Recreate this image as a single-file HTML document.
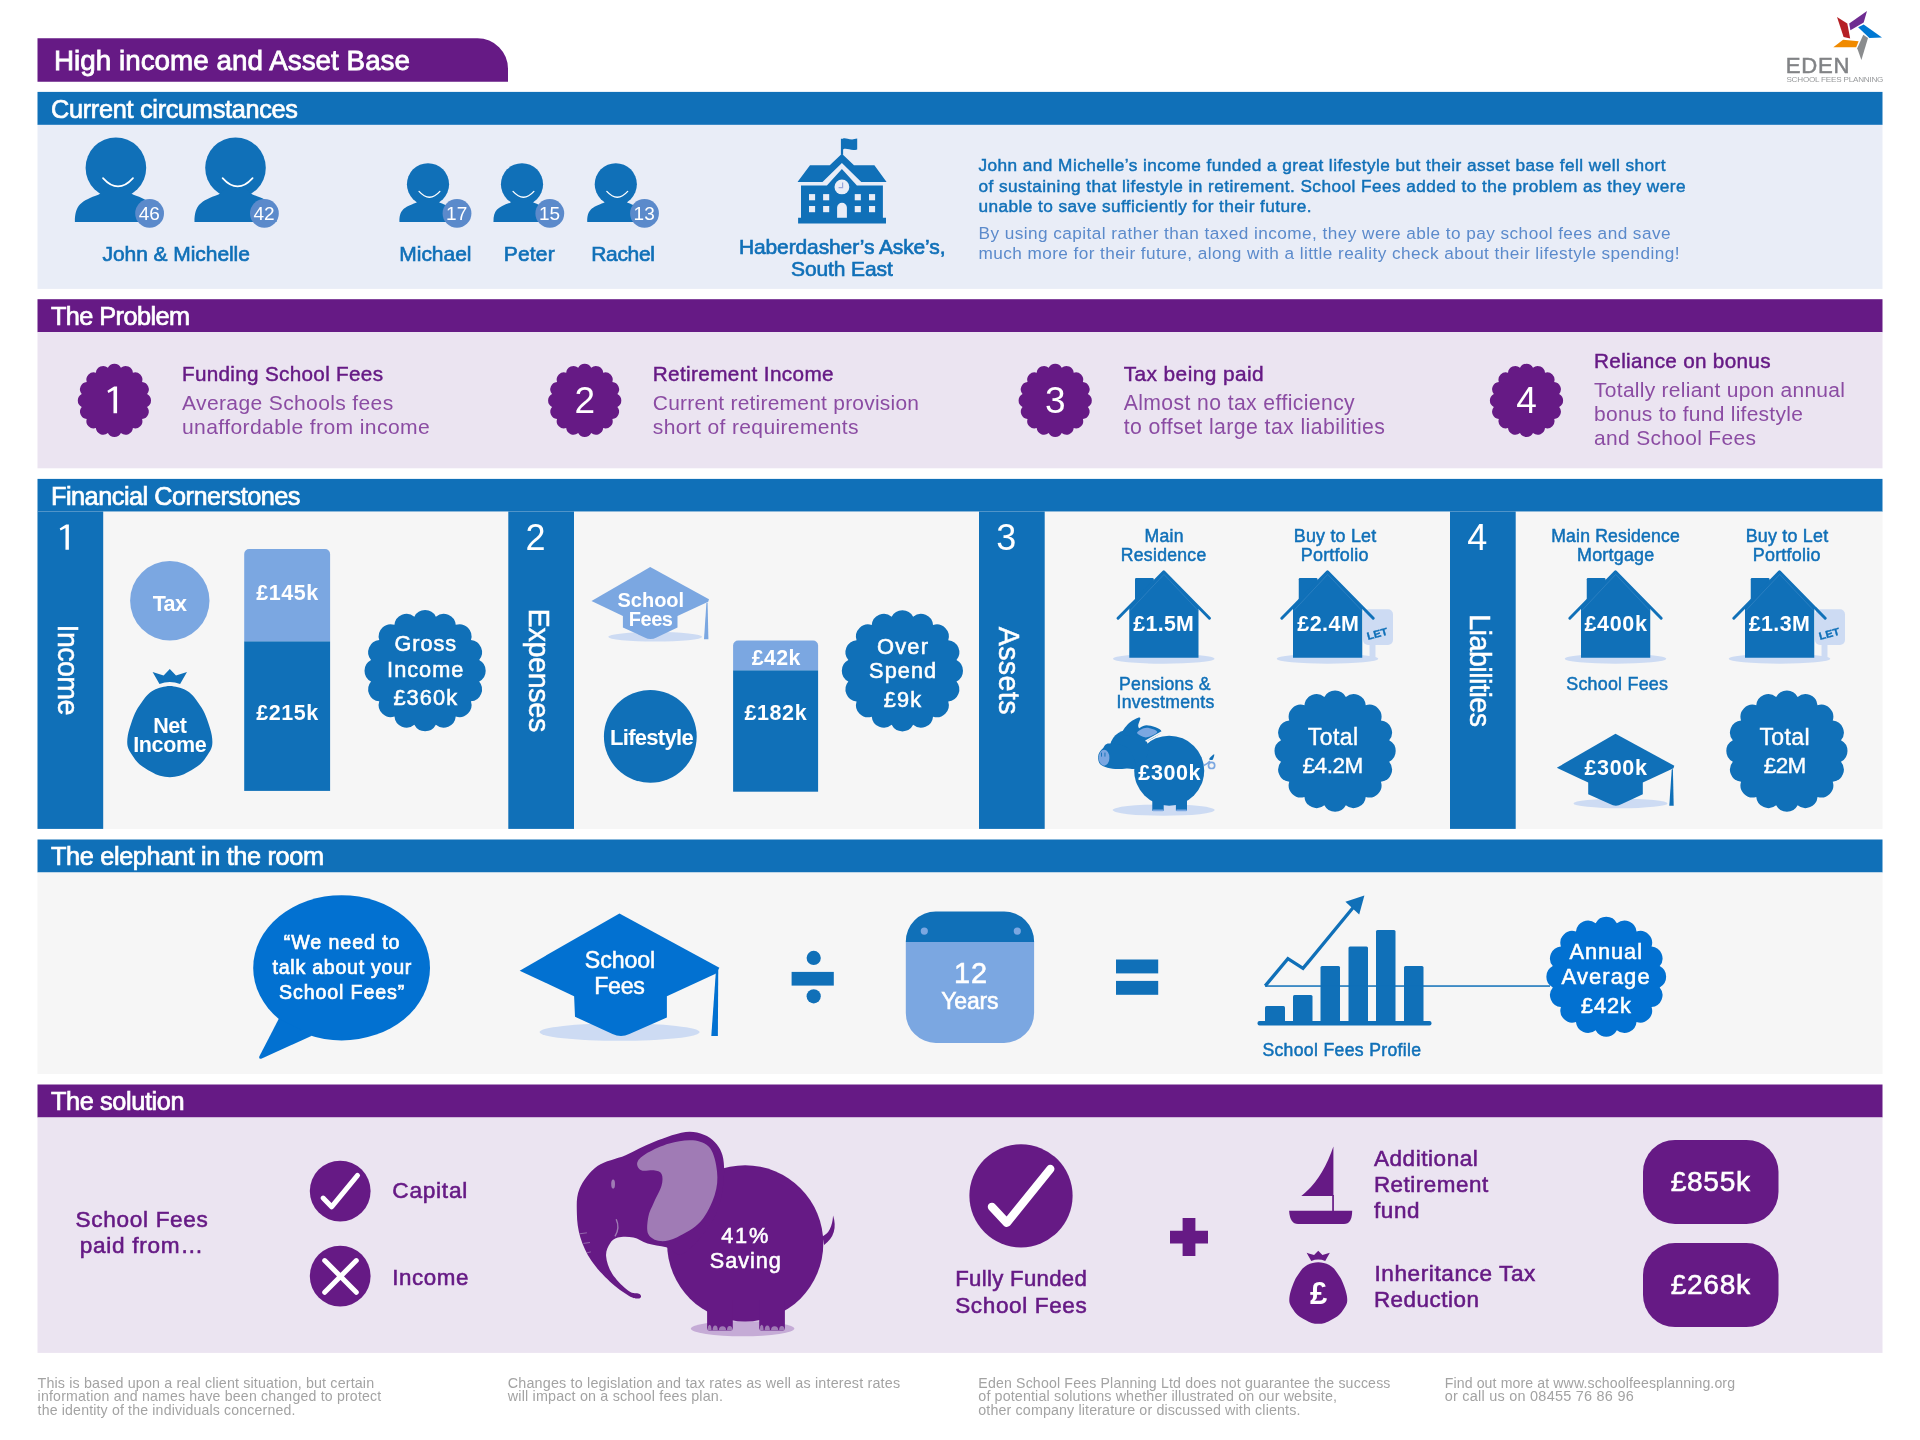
<!DOCTYPE html><html><head><meta charset="utf-8"><title>High income and Asset Base</title><style>html,body{margin:0;padding:0;background:#fff}svg{display:block;will-change:transform}text{font-family:"Liberation Sans",sans-serif;white-space:pre}</style></head><body><svg width="1920" height="1440" viewBox="0 0 1920 1440"><path d="M37.5 38.2H477.5A30.5 30.5 0 0 1 508 68.7V81.7H37.5Z" fill="#661A85"/>
<text x="54.0" y="69.9" font-size="27.8" fill="#fff" textLength="356.0" lengthAdjust="spacing" stroke="#fff" stroke-width="0.8">High income and Asset Base</text>
<rect x="37.50" y="91.90" width="1845.00" height="33.00" fill="#1070B8"/>
<text x="51.0" y="117.5" font-size="25.3" fill="#fff" textLength="247.0" lengthAdjust="spacing" stroke="#fff" stroke-width="0.7">Current circumstances</text>
<rect x="37.50" y="124.90" width="1845.00" height="164.00" fill="#E9EDF7"/>
<rect x="37.50" y="299.20" width="1845.00" height="33.00" fill="#661A85"/>
<text x="51.0" y="324.8" font-size="25.3" fill="#fff" textLength="139.0" lengthAdjust="spacing" stroke="#fff" stroke-width="0.7">The Problem</text>
<rect x="37.50" y="332.00" width="1845.00" height="136.30" fill="#EBE4F1"/>
<rect x="37.50" y="478.90" width="1845.00" height="33.00" fill="#1070B8"/>
<text x="51.0" y="504.5" font-size="25.3" fill="#fff" textLength="249.5" lengthAdjust="spacing" stroke="#fff" stroke-width="0.7">Financial Cornerstones</text>
<rect x="37.50" y="511.50" width="1845.00" height="317.40" fill="#F6F6F6"/>
<rect x="37.50" y="839.50" width="1845.00" height="33.00" fill="#1070B8"/>
<text x="51.0" y="865.1" font-size="25.3" fill="#fff" textLength="273.0" lengthAdjust="spacing" stroke="#fff" stroke-width="0.7">The elephant in the room</text>
<rect x="37.50" y="872.50" width="1845.00" height="201.50" fill="#F6F6F6"/>
<rect x="37.50" y="1084.50" width="1845.00" height="33.00" fill="#661A85"/>
<text x="51.0" y="1110.1" font-size="25.3" fill="#fff" textLength="133.5" lengthAdjust="spacing" stroke="#fff" stroke-width="0.7">The solution</text>
<rect x="37.50" y="1117.50" width="1845.00" height="235.40" fill="#EBE4F1"/>
<polygon points="1849.20,23.40 1867.00,11.00 1863.70,22.50 1850.40,30.20" fill="#6F2C91"/>
<polygon points="1837.00,16.90 1847.30,23.40 1850.20,38.40 1843.60,37.00" fill="#B52025"/>
<polygon points="1858.10,27.20 1863.70,24.60 1882.00,37.50 1869.40,38.00" fill="#0078D2"/>
<polygon points="1863.30,34.70 1868.00,38.00 1861.40,60.00 1857.20,48.30" fill="#8A8C8E"/>
<polygon points="1833.30,47.30 1843.10,39.80 1858.60,41.20 1856.20,47.30" fill="#F08A00"/>
<text x="1785.8" y="72.7" font-size="22.14" fill="#818386" textLength="63.8" lengthAdjust="spacing" stroke="#818386" stroke-width="0.5">EDEN</text>
<text x="1786.4" y="81.6" font-size="8.1" fill="#97999b" textLength="97.0" lengthAdjust="spacing">SCHOOL FEES PLANNING</text>
<circle cx="115.90" cy="167.80" r="30.30" fill="#1070B8"/>
<path d="M74.90 221.9C74.90 204.90 80.90 200.90 98.90 194.40L105.90 188.40H125.90L132.90 194.40C150.90 200.90 156.90 204.90 156.90 221.9Z" fill="#1070B8"/>
<path d="M103.00 178.10Q118.00 194.80 133.00 178.10" fill="none" stroke="#fff" stroke-width="1.7" stroke-linecap="round"/>
<circle cx="149.60" cy="213.40" r="14.40" fill="#5B8ACB"/>
<text x="149.3" y="220.2" font-size="19" fill="#fff" text-anchor="middle" textLength="21.2" lengthAdjust="spacing">46</text>
<circle cx="235.50" cy="167.80" r="30.30" fill="#1070B8"/>
<path d="M194.50 221.9C194.50 204.90 200.50 200.90 218.50 194.40L225.50 188.40H245.50L252.50 194.40C270.50 200.90 276.50 204.90 276.50 221.9Z" fill="#1070B8"/>
<path d="M222.60 178.10Q237.60 194.80 252.60 178.10" fill="none" stroke="#fff" stroke-width="1.7" stroke-linecap="round"/>
<circle cx="264.40" cy="213.40" r="14.40" fill="#5B8ACB"/>
<text x="264.1" y="220.2" font-size="19" fill="#fff" text-anchor="middle" textLength="21.2" lengthAdjust="spacing">42</text>
<circle cx="428.00" cy="184.25" r="21.09" fill="#1070B8"/>
<path d="M399.46 221.9C399.46 210.07 403.64 207.28 416.17 202.76L421.04 198.58H434.96L439.83 202.76C452.36 207.28 456.54 210.07 456.54 221.9Z" fill="#1070B8"/>
<path d="M419.02 191.42Q429.46 203.04 439.90 191.42" fill="none" stroke="#fff" stroke-width="1.3" stroke-linecap="round"/>
<circle cx="457.00" cy="213.40" r="14.40" fill="#5B8ACB"/>
<text x="456.7" y="220.2" font-size="19" fill="#fff" text-anchor="middle" textLength="21.2" lengthAdjust="spacing">17</text>
<circle cx="522.00" cy="184.25" r="21.09" fill="#1070B8"/>
<path d="M493.46 221.9C493.46 210.07 497.64 207.28 510.17 202.76L515.04 198.58H528.96L533.83 202.76C546.36 207.28 550.54 210.07 550.54 221.9Z" fill="#1070B8"/>
<path d="M513.02 191.42Q523.46 203.04 533.90 191.42" fill="none" stroke="#fff" stroke-width="1.3" stroke-linecap="round"/>
<circle cx="549.80" cy="213.40" r="14.40" fill="#5B8ACB"/>
<text x="549.5" y="220.2" font-size="19" fill="#fff" text-anchor="middle" textLength="21.2" lengthAdjust="spacing">15</text>
<circle cx="615.80" cy="184.25" r="21.09" fill="#1070B8"/>
<path d="M587.26 221.9C587.26 210.07 591.44 207.28 603.97 202.76L608.84 198.58H622.76L627.63 202.76C640.16 207.28 644.34 210.07 644.34 221.9Z" fill="#1070B8"/>
<path d="M606.82 191.42Q617.26 203.04 627.70 191.42" fill="none" stroke="#fff" stroke-width="1.3" stroke-linecap="round"/>
<circle cx="644.50" cy="213.40" r="14.40" fill="#5B8ACB"/>
<text x="644.2" y="220.2" font-size="19" fill="#fff" text-anchor="middle" textLength="21.2" lengthAdjust="spacing">13</text>
<text x="102.5" y="260.6" font-size="21" fill="#1070B8" textLength="147.4" lengthAdjust="spacing" stroke="#1070B8" stroke-width="0.65">John &amp; Michelle</text>
<text x="399.3" y="260.6" font-size="21" fill="#1070B8" textLength="72.2" lengthAdjust="spacing" stroke="#1070B8" stroke-width="0.65">Michael</text>
<text x="503.7" y="260.6" font-size="21" fill="#1070B8" textLength="51.0" lengthAdjust="spacing" stroke="#1070B8" stroke-width="0.65">Peter</text>
<text x="591.2" y="260.6" font-size="21" fill="#1070B8" textLength="63.8" lengthAdjust="spacing" stroke="#1070B8" stroke-width="0.65">Rachel</text>
<polygon points="797.50,181.90 810.00,165.25 829.75,165.25 841.90,153.75 854.00,165.25 874.40,165.25 886.60,181.90 861.25,181.90 841.90,163.10 822.50,181.90" fill="#1070B8"/>
<polygon points="801.00,185.60 826.90,185.60 841.90,169.00 856.90,185.60 882.90,185.60 882.90,218.00 801.00,218.00" fill="#1070B8"/>
<rect x="798.10" y="217.75" width="87.90" height="5.75" fill="#1070B8"/>
<rect x="840.90" y="138.75" width="2.20" height="16.00" fill="#1070B8"/>
<path d="M843 138.6C846 137 849 141 857.2 138.6V149.4C851 151.5 847 147.5 843 149.4Z" fill="#1070B8"/>
<circle cx="841.90" cy="186.90" r="7.40" fill="#E9EDF7"/>
<path d="M842.6 182.4V187.6H838.6" fill="none" stroke="#9AA8DC" stroke-width="1.2"/>
<rect x="809.00" y="194.10" width="6.10" height="6.20" fill="#E9EDF7"/>
<rect x="809.00" y="206.00" width="6.10" height="6.20" fill="#E9EDF7"/>
<rect x="823.10" y="194.10" width="6.10" height="6.20" fill="#E9EDF7"/>
<rect x="823.10" y="206.00" width="6.10" height="6.20" fill="#E9EDF7"/>
<rect x="854.75" y="194.10" width="6.10" height="6.20" fill="#E9EDF7"/>
<rect x="854.75" y="206.00" width="6.10" height="6.20" fill="#E9EDF7"/>
<rect x="869.00" y="194.10" width="6.10" height="6.20" fill="#E9EDF7"/>
<rect x="869.00" y="206.00" width="6.10" height="6.20" fill="#E9EDF7"/>
<path d="M837.1 217.75V207.6A4.9 4.9 0 0 1 846.9 207.6V217.75Z" fill="#E9EDF7"/>
<text x="738.9" y="254.4" font-size="21" fill="#1070B8" textLength="206.6" lengthAdjust="spacing" stroke="#1070B8" stroke-width="0.65">Haberdasher’s Aske’s,</text>
<text x="791.0" y="276.2" font-size="21" fill="#1070B8" textLength="101.8" lengthAdjust="spacing" stroke="#1070B8" stroke-width="0.65">South East</text>
<text x="978.5" y="170.9" font-size="17.24" fill="#1070B8" textLength="687.0" lengthAdjust="spacing" stroke="#1070B8" stroke-width="0.45">John and Michelle’s income funded a great lifestyle but their asset base fell well short</text>
<text x="978.5" y="191.9" font-size="17.23" fill="#1070B8" textLength="707.0" lengthAdjust="spacing" stroke="#1070B8" stroke-width="0.45">of sustaining that lifestyle in retirement. School Fees added to the problem as they were</text>
<text x="978.5" y="212.0" font-size="17.25" fill="#1070B8" textLength="333.0" lengthAdjust="spacing" stroke="#1070B8" stroke-width="0.45">unable to save sufficiently for their future.</text>
<text x="978.5" y="238.9" font-size="17.21" fill="#5B8ACB" textLength="692.0" lengthAdjust="spacing">By using capital rather than taxed income, they were able to pay school fees and save</text>
<text x="978.5" y="259.0" font-size="17.22" fill="#5B8ACB" textLength="701.0" lengthAdjust="spacing">much more for their future, along with a little reality check about their lifestyle spending!</text>
<path d="M107.90 367.74A7.32 7.32 0 0 1 120.90 367.74A7.32 7.32 0 0 1 132.90 372.72A7.32 7.32 0 0 1 142.08 381.90A7.32 7.32 0 0 1 147.06 393.90A7.32 7.32 0 0 1 147.06 406.90A7.32 7.32 0 0 1 142.08 418.90A7.32 7.32 0 0 1 132.90 428.08A7.32 7.32 0 0 1 120.90 433.06A7.32 7.32 0 0 1 107.90 433.06A7.32 7.32 0 0 1 95.90 428.08A7.32 7.32 0 0 1 86.72 418.90A7.32 7.32 0 0 1 81.74 406.90A7.32 7.32 0 0 1 81.74 393.90A7.32 7.32 0 0 1 86.72 381.90A7.32 7.32 0 0 1 95.90 372.72A7.32 7.32 0 0 1 107.90 367.74Z" fill="#661A85"/>
<polygon points="117.08,386.55 117.08,413.15 113.48,413.15 113.48,390.25 108.38,393.00 107.38,390.85 114.13,386.55" fill="#fff"/>
<text x="182.0" y="381.0" font-size="20.68" fill="#661A85" textLength="201.0" lengthAdjust="spacing" stroke="#661A85" stroke-width="0.45">Funding School Fees</text>
<text x="182.0" y="410.0" font-size="21.05" fill="#8B4CA3" textLength="211.2" lengthAdjust="spacing">Average Schools fees</text>
<text x="182.0" y="434.1" font-size="21.1" fill="#8B4CA3" textLength="247.7" lengthAdjust="spacing">unaffordable from income</text>
<path d="M578.20 367.74A7.32 7.32 0 0 1 591.20 367.74A7.32 7.32 0 0 1 603.20 372.72A7.32 7.32 0 0 1 612.38 381.90A7.32 7.32 0 0 1 617.36 393.90A7.32 7.32 0 0 1 617.36 406.90A7.32 7.32 0 0 1 612.38 418.90A7.32 7.32 0 0 1 603.20 428.08A7.32 7.32 0 0 1 591.20 433.06A7.32 7.32 0 0 1 578.20 433.06A7.32 7.32 0 0 1 566.20 428.08A7.32 7.32 0 0 1 557.02 418.90A7.32 7.32 0 0 1 552.04 406.90A7.32 7.32 0 0 1 552.04 393.90A7.32 7.32 0 0 1 557.02 381.90A7.32 7.32 0 0 1 566.20 372.72A7.32 7.32 0 0 1 578.20 367.74Z" fill="#661A85"/>
<text x="584.7" y="413.1" font-size="37" fill="#fff" text-anchor="middle">2</text>
<text x="652.8" y="380.6" font-size="20.73" fill="#661A85" textLength="180.8" lengthAdjust="spacing" stroke="#661A85" stroke-width="0.45">Retirement Income</text>
<text x="652.8" y="409.6" font-size="20.95" fill="#8B4CA3" textLength="266.2" lengthAdjust="spacing">Current retirement provision</text>
<text x="652.8" y="433.7" font-size="21.06" fill="#8B4CA3" textLength="205.8" lengthAdjust="spacing">short of requirements</text>
<path d="M1048.70 367.74A7.32 7.32 0 0 1 1061.70 367.74A7.32 7.32 0 0 1 1073.70 372.72A7.32 7.32 0 0 1 1082.88 381.90A7.32 7.32 0 0 1 1087.86 393.90A7.32 7.32 0 0 1 1087.86 406.90A7.32 7.32 0 0 1 1082.88 418.90A7.32 7.32 0 0 1 1073.70 428.08A7.32 7.32 0 0 1 1061.70 433.06A7.32 7.32 0 0 1 1048.70 433.06A7.32 7.32 0 0 1 1036.70 428.08A7.32 7.32 0 0 1 1027.52 418.90A7.32 7.32 0 0 1 1022.54 406.90A7.32 7.32 0 0 1 1022.54 393.90A7.32 7.32 0 0 1 1027.52 381.90A7.32 7.32 0 0 1 1036.70 372.72A7.32 7.32 0 0 1 1048.70 367.74Z" fill="#661A85"/>
<text x="1055.2" y="413.1" font-size="37" fill="#fff" text-anchor="middle">3</text>
<text x="1123.7" y="380.6" font-size="20.85" fill="#661A85" textLength="139.9" lengthAdjust="spacing" stroke="#661A85" stroke-width="0.45">Tax being paid</text>
<text x="1123.7" y="409.6" font-size="21.16" fill="#8B4CA3" textLength="231.0" lengthAdjust="spacing">Almost no tax efficiency</text>
<text x="1123.7" y="433.7" font-size="21.27" fill="#8B4CA3" textLength="261.2" lengthAdjust="spacing">to offset large tax liabilities</text>
<path d="M1520.00 367.74A7.32 7.32 0 0 1 1533.00 367.74A7.32 7.32 0 0 1 1545.00 372.72A7.32 7.32 0 0 1 1554.18 381.90A7.32 7.32 0 0 1 1559.16 393.90A7.32 7.32 0 0 1 1559.16 406.90A7.32 7.32 0 0 1 1554.18 418.90A7.32 7.32 0 0 1 1545.00 428.08A7.32 7.32 0 0 1 1533.00 433.06A7.32 7.32 0 0 1 1520.00 433.06A7.32 7.32 0 0 1 1508.00 428.08A7.32 7.32 0 0 1 1498.82 418.90A7.32 7.32 0 0 1 1493.84 406.90A7.32 7.32 0 0 1 1493.84 393.90A7.32 7.32 0 0 1 1498.82 381.90A7.32 7.32 0 0 1 1508.00 372.72A7.32 7.32 0 0 1 1520.00 367.74Z" fill="#661A85"/>
<text x="1526.5" y="413.1" font-size="37" fill="#fff" text-anchor="middle">4</text>
<text x="1594.1" y="368.1" font-size="20.69" fill="#661A85" textLength="176.4" lengthAdjust="spacing" stroke="#661A85" stroke-width="0.45">Reliance on bonus</text>
<text x="1594.1" y="397.1" font-size="20.99" fill="#8B4CA3" textLength="250.8" lengthAdjust="spacing">Totally reliant upon annual</text>
<text x="1594.1" y="421.2" font-size="20.98" fill="#8B4CA3" textLength="208.7" lengthAdjust="spacing">bonus to fund lifestyle</text>
<text x="1594.1" y="445.3" font-size="20.98" fill="#8B4CA3" textLength="161.8" lengthAdjust="spacing">and School Fees</text>
<rect x="37.50" y="511.50" width="65.70" height="317.40" fill="#1070B8"/>
<polygon points="68.88,524.50 68.88,549.70 65.47,549.70 65.47,528.01 60.64,530.61 59.69,528.57 66.09,524.50" fill="#fff"/>
<text transform="translate(57.9 624.5) rotate(90)" font-size="28.6" fill="#fff" stroke="#fff" stroke-width="0.5" textLength="91.0" lengthAdjust="spacing">Income</text>
<rect x="508.30" y="511.50" width="65.70" height="317.40" fill="#1070B8"/>
<text x="535.5" y="549.7" font-size="36" fill="#fff" text-anchor="middle">2</text>
<text transform="translate(528.7 608.7) rotate(90)" font-size="28.6" fill="#fff" stroke="#fff" stroke-width="0.5" textLength="123.6" lengthAdjust="spacing">Expenses</text>
<rect x="979.00" y="511.50" width="65.70" height="317.40" fill="#1070B8"/>
<text x="1006.2" y="549.7" font-size="36" fill="#fff" text-anchor="middle">3</text>
<text transform="translate(999.4 626.7) rotate(90)" font-size="28.6" fill="#fff" stroke="#fff" stroke-width="0.5" textLength="87.8" lengthAdjust="spacing">Assets</text>
<rect x="1450.00" y="511.50" width="65.70" height="317.40" fill="#1070B8"/>
<text x="1477.2" y="549.7" font-size="36" fill="#fff" text-anchor="middle">4</text>
<text transform="translate(1470.4 614.2) rotate(90)" font-size="28.6" fill="#fff" stroke="#fff" stroke-width="0.5" textLength="112.8" lengthAdjust="spacing">Liabilities</text>
<circle cx="169.80" cy="600.80" r="39.70" fill="#7BA7E1"/>
<text x="152.7" y="611.0" font-size="21.5" fill="#fff" font-weight="bold" textLength="34.2" lengthAdjust="spacing">Tax</text>
<path d="M169.80 686.00C172.50 686.00 175.20 686.67 177.89 687.37C180.59 688.07 183.65 688.96 185.99 690.20C188.33 691.43 190.18 693.02 191.95 694.76C193.73 696.49 194.76 697.95 196.64 700.59C198.52 703.24 201.32 706.98 203.24 710.62C205.16 714.27 206.72 718.38 208.14 722.48C209.56 726.58 211.12 731.30 211.76 735.25C212.40 739.20 212.68 742.91 211.97 746.19C211.27 749.48 209.51 751.94 207.54 754.95C205.58 757.96 203.34 761.45 200.17 764.25C197.01 767.05 191.97 769.80 188.54 771.73C185.11 773.66 182.72 774.92 179.60 775.83C176.47 776.74 173.07 777.20 169.80 777.20C166.53 777.20 163.13 776.74 160.00 775.83C156.88 774.92 154.49 773.66 151.06 771.73C147.63 769.80 142.59 767.05 139.43 764.25C136.26 761.45 134.02 757.96 132.06 754.95C130.09 751.94 128.33 749.48 127.63 746.19C126.92 742.91 127.20 739.20 127.84 735.25C128.48 731.30 130.04 726.58 131.46 722.48C132.88 718.38 134.44 714.27 136.36 710.62C138.28 706.98 141.08 703.24 142.96 700.59C144.84 697.95 145.87 696.49 147.65 694.76C149.42 693.02 151.27 691.43 153.61 690.20C155.96 688.96 159.01 688.07 161.71 687.37C164.40 686.67 167.10 686.00 169.80 686.00Z" fill="#1070B8"/>
<path d="M152.60 671.92L163.61 675.39L169.80 668.90L175.99 675.39L187.00 671.92L180.12 684.00Q169.80 679.92 159.48 684.00Z" fill="#1070B8"/>
<text x="153.2" y="732.7" font-size="21.5" fill="#fff" font-weight="bold" textLength="33.7" lengthAdjust="spacing">Net</text>
<text x="133.2" y="752.0" font-size="21.5" fill="#fff" font-weight="bold" textLength="73.4" lengthAdjust="spacing">Income</text>
<path d="M244.2 641.4V554A5 5 0 0 1 249.2 549H325.1A5 5 0 0 1 330.1 554V641.4Z" fill="#7BA7E1"/>
<rect x="244.20" y="641.40" width="85.90" height="149.50" fill="#1070B8"/>
<text x="256.2" y="600.4" font-size="21.49" fill="#fff" font-weight="bold" textLength="61.9" lengthAdjust="spacing">£145k</text>
<text x="256.2" y="719.5" font-size="21.49" fill="#fff" font-weight="bold" textLength="61.9" lengthAdjust="spacing">£215k</text>
<path d="M414.35 616.63A12.12 12.12 0 0 1 435.85 616.63A12.12 12.12 0 0 1 455.73 624.86A12.12 12.12 0 0 1 470.94 640.07A12.12 12.12 0 0 1 479.17 659.95A12.12 12.12 0 0 1 479.17 681.45A12.12 12.12 0 0 1 470.94 701.33A12.12 12.12 0 0 1 455.73 716.54A12.12 12.12 0 0 1 435.85 724.77A12.12 12.12 0 0 1 414.35 724.77A12.12 12.12 0 0 1 394.47 716.54A12.12 12.12 0 0 1 379.26 701.33A12.12 12.12 0 0 1 371.03 681.45A12.12 12.12 0 0 1 371.03 659.95A12.12 12.12 0 0 1 379.26 640.07A12.12 12.12 0 0 1 394.47 624.86A12.12 12.12 0 0 1 414.35 616.63Z" fill="#1070B8"/>
<text x="394.4" y="651.0" font-size="21.7" fill="#fff" textLength="61.7" lengthAdjust="spacing" stroke="#fff" stroke-width="0.55">Gross</text>
<text x="387.1" y="677.0" font-size="21.75" fill="#fff" textLength="76.3" lengthAdjust="spacing" stroke="#fff" stroke-width="0.55">Income</text>
<text x="393.4" y="705.0" font-size="21.8" fill="#fff" textLength="63.7" lengthAdjust="spacing" stroke="#fff" stroke-width="0.55">£360k</text>
<ellipse cx="655.20" cy="636.80" rx="47.00" ry="4.80" fill="#CDDBF3"/>
<polygon points="650.20,567.10 709.00,599.20 708.20,601.70 677.50,615.90 622.90,615.90 591.50,601.10" fill="#7BA7E1"/>
<path d="M622.90 614.10L622.90 627.55L644.70 637.40Q650.60 640.70 656.50 637.40L677.50 627.55L677.50 614.10Z" fill="#7BA7E1"/>
<polygon points="706.40,603.10 707.60,602.40 708.40,639.20 704.00,639.20" fill="#7BA7E1"/>
<text x="617.5" y="607.3" font-size="20" fill="#fff" font-weight="bold" textLength="66.6" lengthAdjust="spacing">School</text>
<text x="628.8" y="625.9" font-size="20" fill="#fff" font-weight="bold" textLength="44.1" lengthAdjust="spacing">Fees</text>
<circle cx="650.30" cy="736.40" r="46.40" fill="#1070B8"/>
<text x="610.0" y="744.8" font-size="22" fill="#fff" font-weight="bold" textLength="83.7" lengthAdjust="spacing">Lifestyle</text>
<path d="M733.1 670.4V645.6A5 5 0 0 1 738.1 640.6H813.1A5 5 0 0 1 818.1 645.6V670.4Z" fill="#7BA7E1"/>
<rect x="733.10" y="670.40" width="85.00" height="121.30" fill="#1070B8"/>
<text x="751.7" y="664.6" font-size="21.35" fill="#fff" font-weight="bold" textLength="48.7" lengthAdjust="spacing">£42k</text>
<text x="744.6" y="720.2" font-size="21.51" fill="#fff" font-weight="bold" textLength="62.0" lengthAdjust="spacing">£182k</text>
<path d="M891.65 616.73A12.12 12.12 0 0 1 913.15 616.73A12.12 12.12 0 0 1 933.03 624.96A12.12 12.12 0 0 1 948.24 640.17A12.12 12.12 0 0 1 956.47 660.05A12.12 12.12 0 0 1 956.47 681.55A12.12 12.12 0 0 1 948.24 701.43A12.12 12.12 0 0 1 933.03 716.64A12.12 12.12 0 0 1 913.15 724.87A12.12 12.12 0 0 1 891.65 724.87A12.12 12.12 0 0 1 871.77 716.64A12.12 12.12 0 0 1 856.56 701.43A12.12 12.12 0 0 1 848.33 681.55A12.12 12.12 0 0 1 848.33 660.05A12.12 12.12 0 0 1 856.56 640.17A12.12 12.12 0 0 1 871.77 624.96A12.12 12.12 0 0 1 891.65 616.73Z" fill="#1070B8"/>
<text x="877.0" y="653.5" font-size="21.85" fill="#fff" textLength="51.0" lengthAdjust="spacing" stroke="#fff" stroke-width="0.55">Over</text>
<text x="869.1" y="678.1" font-size="21.72" fill="#fff" textLength="67.0" lengthAdjust="spacing" stroke="#fff" stroke-width="0.55">Spend</text>
<text x="883.7" y="706.7" font-size="21.73" fill="#fff" textLength="37.4" lengthAdjust="spacing" stroke="#fff" stroke-width="0.55">£9k</text>
<ellipse cx="1163.75" cy="658.75" rx="50.75" ry="5.00" fill="#CDDBF3"/>
<rect x="1135.00" y="578.00" width="18.75" height="25.00" fill="#1070B8" rx="1.2"/>
<polygon points="1163.75,571.95 1198.50,607.60 1198.50,657.70 1129.25,657.70 1129.25,607.60" fill="#1070B8"/>
<path d="M1118.05 618.3L1163.75 571.75L1209.45 618.3" fill="none" stroke="#1070B8" stroke-width="2.9" stroke-linecap="round" stroke-linejoin="round"/>
<path d="M1130.05 610.6L1163.95 574.4L1198.15 610.6" fill="none" stroke="#3a88c6" stroke-width="0.6"/>
<text x="1133.2" y="630.5" font-size="21.33" fill="#fff" font-weight="bold" textLength="60.7" lengthAdjust="spacing">£1.5M</text>
<ellipse cx="1327.50" cy="658.75" rx="50.75" ry="5.00" fill="#CDDBF3"/>
<rect x="1363.00" y="609.25" width="30.00" height="35.75" fill="#CDDBF3" rx="5"/>
<rect x="1369.50" y="640.00" width="6.00" height="17.50" fill="#CDDBF3"/>
<text transform="translate(1368.0 640.0) rotate(-15)" font-size="10.3" font-weight="bold" fill="#1070B8" stroke="#1070B8" stroke-width="0.35" textLength="21" lengthAdjust="spacingAndGlyphs">LET</text>
<rect x="1298.75" y="578.00" width="18.75" height="25.00" fill="#1070B8" rx="1.2"/>
<polygon points="1327.50,571.95 1362.25,607.60 1362.25,657.70 1293.00,657.70 1293.00,607.60" fill="#1070B8"/>
<path d="M1281.80 618.3L1327.50 571.75L1373.20 618.3" fill="none" stroke="#1070B8" stroke-width="2.9" stroke-linecap="round" stroke-linejoin="round"/>
<path d="M1293.80 610.6L1327.70 574.4L1361.90 610.6" fill="none" stroke="#3a88c6" stroke-width="0.6"/>
<text x="1297.2" y="630.5" font-size="21.47" fill="#fff" font-weight="bold" textLength="61.7" lengthAdjust="spacing">£2.4M</text>
<text x="1164.0" y="542.0" font-size="17.6" fill="#1070B8" text-anchor="middle" textLength="39.0" lengthAdjust="spacing" stroke="#1070B8" stroke-width="0.5">Main</text>
<text x="1163.5" y="560.8" font-size="17.6" fill="#1070B8" text-anchor="middle" textLength="85.5" lengthAdjust="spacing" stroke="#1070B8" stroke-width="0.5">Residence</text>
<text x="1335.0" y="542.0" font-size="17.89" fill="#1070B8" text-anchor="middle" textLength="82.5" lengthAdjust="spacing" stroke="#1070B8" stroke-width="0.5">Buy to Let</text>
<text x="1334.6" y="560.8" font-size="17.94" fill="#1070B8" text-anchor="middle" textLength="67.7" lengthAdjust="spacing" stroke="#1070B8" stroke-width="0.5">Portfolio</text>
<text x="1164.8" y="690.0" font-size="17.6" fill="#1070B8" text-anchor="middle" textLength="91.5" lengthAdjust="spacing" stroke="#1070B8" stroke-width="0.5">Pensions &amp;</text>
<text x="1165.4" y="707.5" font-size="17.6" fill="#1070B8" text-anchor="middle" textLength="97.7" lengthAdjust="spacing" stroke="#1070B8" stroke-width="0.5">Investments</text>
<ellipse cx="1615.50" cy="658.75" rx="50.75" ry="5.00" fill="#CDDBF3"/>
<rect x="1586.75" y="578.00" width="18.75" height="25.00" fill="#1070B8" rx="1.2"/>
<polygon points="1615.50,571.95 1650.25,607.60 1650.25,657.70 1581.00,657.70 1581.00,607.60" fill="#1070B8"/>
<path d="M1569.80 618.3L1615.50 571.75L1661.20 618.3" fill="none" stroke="#1070B8" stroke-width="2.9" stroke-linecap="round" stroke-linejoin="round"/>
<path d="M1581.80 610.6L1615.70 574.4L1649.90 610.6" fill="none" stroke="#3a88c6" stroke-width="0.6"/>
<text x="1584.4" y="630.5" font-size="21.57" fill="#fff" font-weight="bold" textLength="62.5" lengthAdjust="spacing">£400k</text>
<ellipse cx="1779.50" cy="658.75" rx="50.75" ry="5.00" fill="#CDDBF3"/>
<rect x="1815.00" y="609.25" width="30.00" height="35.75" fill="#CDDBF3" rx="5"/>
<rect x="1821.50" y="640.00" width="6.00" height="17.50" fill="#CDDBF3"/>
<text transform="translate(1820.0 640.0) rotate(-15)" font-size="10.3" font-weight="bold" fill="#1070B8" stroke="#1070B8" stroke-width="0.35" textLength="21" lengthAdjust="spacingAndGlyphs">LET</text>
<rect x="1750.75" y="578.00" width="18.75" height="25.00" fill="#1070B8" rx="1.2"/>
<polygon points="1779.50,571.95 1814.25,607.60 1814.25,657.70 1745.00,657.70 1745.00,607.60" fill="#1070B8"/>
<path d="M1733.80 618.3L1779.50 571.75L1825.20 618.3" fill="none" stroke="#1070B8" stroke-width="2.9" stroke-linecap="round" stroke-linejoin="round"/>
<path d="M1745.80 610.6L1779.70 574.4L1813.90 610.6" fill="none" stroke="#3a88c6" stroke-width="0.6"/>
<text x="1748.7" y="630.5" font-size="21.4" fill="#fff" font-weight="bold" textLength="61.2" lengthAdjust="spacing">£1.3M</text>
<text x="1615.5" y="542.0" font-size="17.6" fill="#1070B8" text-anchor="middle" textLength="128.5" lengthAdjust="spacing" stroke="#1070B8" stroke-width="0.5">Main Residence</text>
<text x="1615.6" y="560.8" font-size="17.87" fill="#1070B8" text-anchor="middle" textLength="77.2" lengthAdjust="spacing" stroke="#1070B8" stroke-width="0.5">Mortgage</text>
<text x="1786.9" y="542.0" font-size="17.89" fill="#1070B8" text-anchor="middle" textLength="82.5" lengthAdjust="spacing" stroke="#1070B8" stroke-width="0.5">Buy to Let</text>
<text x="1786.6" y="560.8" font-size="17.94" fill="#1070B8" text-anchor="middle" textLength="67.7" lengthAdjust="spacing" stroke="#1070B8" stroke-width="0.5">Portfolio</text>
<text x="1617.1" y="690.0" font-size="17.87" fill="#1070B8" text-anchor="middle" textLength="101.7" lengthAdjust="spacing" stroke="#1070B8" stroke-width="0.5">School Fees</text>
<path d="M1324.35 697.03A12.12 12.12 0 0 1 1345.85 697.03A12.12 12.12 0 0 1 1365.73 705.26A12.12 12.12 0 0 1 1380.94 720.47A12.12 12.12 0 0 1 1389.17 740.35A12.12 12.12 0 0 1 1389.17 761.85A12.12 12.12 0 0 1 1380.94 781.73A12.12 12.12 0 0 1 1365.73 796.94A12.12 12.12 0 0 1 1345.85 805.17A12.12 12.12 0 0 1 1324.35 805.17A12.12 12.12 0 0 1 1304.47 796.94A12.12 12.12 0 0 1 1289.26 781.73A12.12 12.12 0 0 1 1281.03 761.85A12.12 12.12 0 0 1 1281.03 740.35A12.12 12.12 0 0 1 1289.26 720.47A12.12 12.12 0 0 1 1304.47 705.26A12.12 12.12 0 0 1 1324.35 697.03Z" fill="#1070B8"/>
<text x="1307.8" y="745.0" font-size="23.0" fill="#fff" textLength="50.2" lengthAdjust="spacing" stroke="#fff" stroke-width="0.4">Total</text>
<text x="1302.5" y="772.5" font-size="22.5" fill="#fff" textLength="60.8" lengthAdjust="spacing" stroke="#fff" stroke-width="0.4">£4.2M</text>
<path d="M1776.15 697.03A12.12 12.12 0 0 1 1797.65 697.03A12.12 12.12 0 0 1 1817.53 705.26A12.12 12.12 0 0 1 1832.74 720.47A12.12 12.12 0 0 1 1840.97 740.35A12.12 12.12 0 0 1 1840.97 761.85A12.12 12.12 0 0 1 1832.74 781.73A12.12 12.12 0 0 1 1817.53 796.94A12.12 12.12 0 0 1 1797.65 805.17A12.12 12.12 0 0 1 1776.15 805.17A12.12 12.12 0 0 1 1756.27 796.94A12.12 12.12 0 0 1 1741.06 781.73A12.12 12.12 0 0 1 1732.83 761.85A12.12 12.12 0 0 1 1732.83 740.35A12.12 12.12 0 0 1 1741.06 720.47A12.12 12.12 0 0 1 1756.27 705.26A12.12 12.12 0 0 1 1776.15 697.03Z" fill="#1070B8"/>
<text x="1759.4" y="745.0" font-size="23.02" fill="#fff" textLength="50.3" lengthAdjust="spacing" stroke="#fff" stroke-width="0.4">Total</text>
<text x="1763.7" y="772.5" font-size="22.5" fill="#fff" textLength="42.6" lengthAdjust="spacing" stroke="#fff" stroke-width="0.4">£2M</text>
<ellipse cx="1620.50" cy="803.45" rx="47.00" ry="4.80" fill="#CDDBF3"/>
<polygon points="1615.50,733.75 1674.30,765.85 1673.50,768.35 1642.80,782.55 1588.20,782.55 1556.80,767.75" fill="#1070B8"/>
<path d="M1588.20 780.75L1588.20 794.20L1610.00 804.05Q1615.90 807.35 1621.80 804.05L1642.80 794.20L1642.80 780.75Z" fill="#1070B8"/>
<polygon points="1671.70,769.75 1672.90,769.05 1673.70,805.85 1669.30,805.85" fill="#1070B8"/>
<text x="1584.4" y="774.5" font-size="21.57" fill="#fff" font-weight="bold" textLength="62.5" lengthAdjust="spacing">£300k</text>
<ellipse cx="1163.70" cy="810.10" rx="51.00" ry="5.70" fill="#CDDBF3"/>
<circle cx="1169.20" cy="770.70" r="35.00" fill="#1070B8"/>
<circle cx="1129.00" cy="749.00" r="19.30" fill="#1070B8"/>
<path d="M1109.10 743.61C1104.90 743.61 1104.74 746.41 1102.99 748.20C1101.23 749.98 1099.19 751.89 1098.56 754.31C1097.92 756.73 1098.05 760.61 1099.17 762.71C1100.29 764.81 1102.61 765.87 1105.28 766.91C1107.95 767.96 1111.65 768.72 1115.21 768.98C1118.78 769.23 1123.23 768.72 1126.67 768.44C1130.11 768.16 1135.58 770.67 1135.84 767.30C1136.09 763.92 1132.65 752.14 1128.20 748.20C1123.74 744.25 1113.30 743.61 1109.10 743.61Z" fill="#1070B8"/>
<ellipse cx="1104.10" cy="757.70" rx="5.30" ry="8.00" fill="#7BA7E1"/>
<rect x="1101.10" y="752.60" width="0.90" height="4.00" fill="#1070B8"/>
<rect x="1104.50" y="752.60" width="0.90" height="4.00" fill="#1070B8"/>
<path d="M1122.47 732.54C1122.47 730.31 1126.80 725.09 1129.72 722.61C1132.65 720.12 1138.61 717.00 1140.04 717.64C1141.46 718.28 1137.71 723.50 1138.28 726.42C1138.85 729.35 1144.90 733.62 1143.48 735.21C1142.05 736.80 1133.23 736.42 1129.72 735.97C1126.22 735.53 1122.47 734.76 1122.47 732.54Z" fill="#1070B8"/>
<path d="M1135.84 731.77C1136.98 729.61 1142.27 725.34 1146.53 725.28C1150.80 725.22 1161.43 728.78 1161.43 731.39C1161.43 734.00 1150.16 739.79 1146.53 740.94C1142.90 742.09 1141.44 739.79 1139.66 738.27C1137.87 736.74 1134.69 733.94 1135.84 731.77Z" fill="#1070B8"/>
<path d="M1137.21 732.31C1137.98 730.87 1143.20 727.81 1146.53 727.72C1149.87 727.63 1156.97 730.21 1157.23 731.77C1157.48 733.34 1150.61 736.36 1148.06 737.12C1145.51 737.88 1143.76 737.16 1141.95 736.36C1140.14 735.55 1136.45 733.75 1137.21 732.31Z" fill="#7BA7E1"/>
<path d="M1145.61 741.17L1161.81 732.00" stroke="#F6F6F6" stroke-width="1.6" fill="none"/>
<rect x="1152.30" y="800.00" width="11.40" height="10.80" fill="#1070B8"/>
<rect x="1175.90" y="800.00" width="11.10" height="10.80" fill="#1070B8"/>
<rect x="1152.60" y="809.60" width="11.00" height="1.60" fill="#7BA7E1" rx="0.8"/>
<rect x="1176.10" y="809.60" width="10.80" height="1.60" fill="#7BA7E1" rx="0.8"/>
<path d="M1203.8 765.5Q1208 763.5 1210 761" stroke="#7BA7E1" stroke-width="1.5" fill="none"/>
<circle cx="1211.6" cy="765.4" r="3.1" fill="none" stroke="#7BA7E1" stroke-width="1.7"/>
<path d="M1209.17 758.89C1209.43 758.00 1213.57 754.18 1214.14 754.31C1214.71 754.44 1213.44 758.89 1212.61 759.66C1211.79 760.42 1208.92 759.78 1209.17 758.89Z" fill="#1070B8"/>
<text x="1138.3" y="779.5" font-size="21.55" fill="#fff" font-weight="bold" textLength="62.3" lengthAdjust="spacing">£300k</text>
<ellipse cx="341.60" cy="967.80" rx="88.40" ry="72.60" fill="#0271D1"/>
<path d="M278.9 1018.6L259.3 1056.5Q258.6 1059.6 261.8 1058.6L311.9 1035.7Z" fill="#0271D1"/>
<text x="283.7" y="949.3" font-size="19.65" fill="#fff" textLength="115.8" lengthAdjust="spacing" stroke="#fff" stroke-width="0.7">“We need to</text>
<text x="272.5" y="974.4" font-size="19.59" fill="#fff" textLength="138.9" lengthAdjust="spacing" stroke="#fff" stroke-width="0.7">talk about your</text>
<text x="279.1" y="998.8" font-size="19.61" fill="#fff" textLength="125.1" lengthAdjust="spacing" stroke="#fff" stroke-width="0.7">School Fees”</text>
<ellipse cx="619.60" cy="1032.10" rx="80.00" ry="8.70" fill="#CDDBF3"/>
<polygon points="619.44,913.44 719.38,967.81 715.63,973.81 666.88,996.13 574.06,996.13 519.69,970.63" fill="#0271D1"/>
<path d="M574.06 995.00L575.00 1016.75L612.50 1034.00Q620.94 1038.13 629.38 1034.00L666.88 1017.50L666.88 995.00Z" fill="#0271D1"/>
<polygon points="716.00,969.69 718.25,968.38 717.88,1035.88 711.31,1035.88" fill="#0271D1"/>
<text x="584.8" y="967.8" font-size="23.2" fill="#fff" textLength="70.4" lengthAdjust="spacing" stroke="#fff" stroke-width="0.5">School</text>
<text x="594.2" y="993.5" font-size="23.2" fill="#fff" textLength="50.7" lengthAdjust="spacing" stroke="#fff" stroke-width="0.5">Fees</text>
<rect x="791.60" y="971.90" width="42.20" height="13.70" fill="#1070B8"/>
<circle cx="813.70" cy="957.90" r="7.10" fill="#1070B8"/>
<circle cx="813.70" cy="996.30" r="7.10" fill="#1070B8"/>
<path d="M905.8 942V941.4A30 30 0 0 1 935.8 911.4H1004.1A30 30 0 0 1 1034.1 941.4V942Z" fill="#1070B8"/>
<path d="M905.8 942H1034.1V1012.9A30 30 0 0 1 1004.1 1042.9H935.8A30 30 0 0 1 905.8 1012.9Z" fill="#7BA7E1"/>
<circle cx="924.30" cy="931.10" r="3.60" fill="#7BA7E1"/>
<circle cx="1017.30" cy="931.10" r="3.60" fill="#7BA7E1"/>
<text x="954.1" y="983.1" font-size="28.93" fill="#fff" textLength="32.9" lengthAdjust="spacing" stroke="#fff" stroke-width="0.55">12</text>
<text x="941.3" y="1008.6" font-size="23" fill="#fff" textLength="57.1" lengthAdjust="spacing" stroke="#fff" stroke-width="0.55">Years</text>
<rect x="1116.00" y="959.50" width="42.20" height="13.90" fill="#1070B8"/>
<rect x="1116.00" y="980.90" width="42.20" height="13.90" fill="#1070B8"/>
<rect x="1257.50" y="1021.00" width="174.00" height="4.50" fill="#1070B8" rx="2"/>
<path d="M1265 1022V1007.5Q1265 1006 1266.5 1006H1283.5Q1285 1006 1285 1007.5V1022Z" fill="#1070B8"/>
<path d="M1293 1022V996.5Q1293 995 1294.5 995H1311.0Q1312.5 995 1312.5 996.5V1022Z" fill="#1070B8"/>
<path d="M1320.5 1022V967.5Q1320.5 966 1322.0 966H1338.5Q1340 966 1340 967.5V1022Z" fill="#1070B8"/>
<path d="M1348.5 1022V948.0Q1348.5 946.5 1350.0 946.5H1366.5Q1368 946.5 1368 948.0V1022Z" fill="#1070B8"/>
<path d="M1376 1022V931.5Q1376 930 1377.5 930H1394.0Q1395.5 930 1395.5 931.5V1022Z" fill="#1070B8"/>
<path d="M1404 1022V967.5Q1404 966 1405.5 966H1422.0Q1423.5 966 1423.5 967.5V1022Z" fill="#1070B8"/>
<path d="M1265.2 985.9L1287.9 958.6L1303 968.4L1354 906.5" fill="none" stroke="#1070B8" stroke-width="3.3" stroke-linejoin="miter"/>
<polygon points="1364.40,895.60 1345.40,901.80 1359.20,914.40" fill="#1070B8"/>
<rect x="1265.00" y="985.30" width="285.00" height="1.50" fill="#1070B8"/>
<text x="1262.4" y="1056.4" font-size="17.63" fill="#1070B8" textLength="158.7" lengthAdjust="spacing" stroke="#1070B8" stroke-width="0.5">School Fees Profile</text>
<path d="M1595.62 923.31A11.98 11.98 0 0 1 1616.88 923.31A11.98 11.98 0 0 1 1636.52 931.44A11.98 11.98 0 0 1 1651.56 946.48A11.98 11.98 0 0 1 1659.69 966.12A11.98 11.98 0 0 1 1659.69 987.38A11.98 11.98 0 0 1 1651.56 1007.02A11.98 11.98 0 0 1 1636.52 1022.06A11.98 11.98 0 0 1 1616.88 1030.19A11.98 11.98 0 0 1 1595.62 1030.19A11.98 11.98 0 0 1 1575.98 1022.06A11.98 11.98 0 0 1 1560.94 1007.02A11.98 11.98 0 0 1 1552.81 987.38A11.98 11.98 0 0 1 1552.81 966.12A11.98 11.98 0 0 1 1560.94 946.48A11.98 11.98 0 0 1 1575.98 931.44A11.98 11.98 0 0 1 1595.62 923.31Z" fill="#0271D1"/>
<text x="1569.5" y="959.1" font-size="21.76" fill="#fff" textLength="72.5" lengthAdjust="spacing" stroke="#fff" stroke-width="0.55">Annual</text>
<text x="1561.5" y="983.6" font-size="21.94" fill="#fff" textLength="88.1" lengthAdjust="spacing" stroke="#fff" stroke-width="0.55">Average</text>
<text x="1581.0" y="1012.9" font-size="21.64" fill="#fff" textLength="49.8" lengthAdjust="spacing" stroke="#fff" stroke-width="0.55">£42k</text>
<text x="75.5" y="1226.7" font-size="22.59" fill="#661A85" textLength="132.4" lengthAdjust="spacing" stroke="#661A85" stroke-width="0.55">School Fees</text>
<text x="79.7" y="1253.3" font-size="22.6" fill="#661A85" textLength="123.3" lengthAdjust="spacing" stroke="#661A85" stroke-width="0.55">paid from…</text>
<circle cx="340.20" cy="1191.10" r="30.40" fill="#661A85"/>
<path d="M323.1 1198.1L331.6 1206.8L357.5 1175.4" fill="none" stroke="#fff" stroke-width="5" stroke-linecap="round" stroke-linejoin="round"/>
<circle cx="340.20" cy="1276.10" r="30.40" fill="#661A85"/>
<path d="M324.7 1260.6L356.3 1292.3M356.3 1260.6L324.7 1292.3" fill="none" stroke="#fff" stroke-width="5" stroke-linecap="round"/>
<text x="392.3" y="1198.3" font-size="22.69" fill="#661A85" textLength="75.0" lengthAdjust="spacing" stroke="#661A85" stroke-width="0.55">Capital</text>
<text x="392.3" y="1284.7" font-size="22.35" fill="#661A85" textLength="76.1" lengthAdjust="spacing" stroke="#661A85" stroke-width="0.55">Income</text>
<ellipse cx="742.60" cy="1328.60" rx="51.80" ry="7.70" fill="#C5ABD6"/>
<circle cx="745.20" cy="1243.40" r="78.10" fill="#661A85"/>
<path d="M576.88 1213.75C576.74 1205.68 576.09 1196.69 579.53 1188.75C582.97 1180.81 589.82 1171.69 597.50 1166.09C605.18 1160.49 616.25 1159.19 625.62 1155.16C635.00 1151.12 643.07 1145.78 653.75 1141.88C664.43 1137.97 679.53 1131.72 689.69 1131.72C699.84 1131.72 708.96 1136.02 714.69 1141.88C720.42 1147.73 723.80 1154.90 724.06 1166.88C724.32 1178.85 722.76 1199.43 716.25 1213.75C709.74 1228.07 693.33 1247.21 685.00 1252.81C676.67 1258.41 672.50 1248.91 666.25 1247.34C660.00 1245.78 652.97 1245.08 647.50 1243.44C642.03 1241.80 638.39 1238.49 633.44 1237.50C628.49 1236.51 621.72 1236.51 617.81 1237.50C613.91 1238.49 611.95 1240.36 610.00 1243.44C608.05 1246.51 605.70 1250.86 606.09 1255.94C606.48 1261.02 608.57 1268.05 612.34 1273.91C616.12 1279.77 624.32 1287.79 628.75 1291.09C633.18 1294.40 636.88 1292.79 638.91 1293.75C640.94 1294.71 641.20 1296.07 640.94 1296.88C640.68 1297.68 639.38 1298.78 637.34 1298.59C635.31 1298.41 633.31 1298.59 628.75 1295.78C624.19 1292.97 616.25 1287.58 610.00 1281.72C603.75 1275.86 596.20 1268.05 591.25 1260.62C586.30 1253.20 582.71 1245.00 580.31 1237.19C577.92 1229.38 577.01 1221.82 576.88 1213.75Z" fill="#661A85"/>
<path d="M637.34 1162.19C638.39 1159.27 642.16 1155.94 647.50 1152.81C652.84 1149.69 661.82 1145.52 669.38 1143.44C676.93 1141.35 686.04 1139.53 692.81 1140.31C699.58 1141.09 705.96 1142.92 710.00 1148.12C714.04 1153.33 716.25 1163.75 717.03 1171.56C717.81 1179.38 717.42 1186.67 714.69 1195.00C711.95 1203.33 706.88 1214.53 700.62 1221.56C694.38 1228.59 683.96 1233.93 677.19 1237.19C670.42 1240.44 664.82 1241.61 660.00 1241.09C655.18 1240.57 650.23 1238.10 648.28 1234.06C646.33 1230.03 647.37 1222.08 648.28 1216.88C649.19 1211.67 651.54 1208.02 653.75 1202.81C655.96 1197.60 660.26 1190.44 661.56 1185.62C662.86 1180.81 662.86 1176.46 661.56 1173.91C660.26 1171.35 657.14 1170.91 653.75 1170.31C650.36 1169.71 643.98 1171.67 641.25 1170.31C638.52 1168.96 636.30 1165.10 637.34 1162.19Z" fill="#A07BB5"/>
<ellipse cx="613.12" cy="1184.06" rx="1.90" ry="4.60" fill="#A07BB5"/>
<path d="M616.2 1219.2Q620.2 1227.8 615.0 1236.4" fill="none" stroke="#A07BB5" stroke-width="1.4"/>
<path d="M579.5 1233.8L586.9 1232.8" stroke="#A07BB5" stroke-width="0.8"/>
<path d="M583.4 1243.4L590.0 1242.5" stroke="#A07BB5" stroke-width="0.8"/>
<path d="M586.9 1252.8L590.9 1251.9" stroke="#A07BB5" stroke-width="0.8"/>
<path d="M707.1 1300V1327.4Q707.1 1330.6 710.3000000000001 1330.6H729.5999999999999Q732.8 1330.6 732.8 1327.4V1300Z" fill="#661A85"/>
<path d="M707.70 1330.3A1.9 5.6 0 0 1 711.50 1330.3Z" fill="#A07BB5"/>
<path d="M712.60 1330.3A2.6 4.7 0 0 1 717.80 1330.3Z" fill="#A07BB5"/>
<path d="M718.90 1330.3A3.6 4.1 0 0 1 726.10 1330.3Z" fill="#A07BB5"/>
<path d="M727.00 1330.3A2.7 4.4 0 0 1 732.40 1330.3Z" fill="#A07BB5"/>
<path d="M759.2 1300V1327.4Q759.2 1330.6 762.4000000000001 1330.6H781.6999999999999Q784.9 1330.6 784.9 1327.4V1300Z" fill="#661A85"/>
<path d="M759.80 1330.3A1.9 5.6 0 0 1 763.60 1330.3Z" fill="#A07BB5"/>
<path d="M764.70 1330.3A2.6 4.7 0 0 1 769.90 1330.3Z" fill="#A07BB5"/>
<path d="M771.00 1330.3A3.6 4.1 0 0 1 778.20 1330.3Z" fill="#A07BB5"/>
<path d="M779.10 1330.3A2.7 4.4 0 0 1 784.50 1330.3Z" fill="#A07BB5"/>
<path d="M822.5 1236.4Q831.9 1232.5 833.1 1215.6Q838.9 1234.1 824.1 1245.0Z" fill="#661A85"/>
<text x="721.2" y="1242.7" font-size="21.79" fill="#fff" textLength="47.1" lengthAdjust="spacing" stroke="#fff" stroke-width="0.55">41%</text>
<text x="709.8" y="1267.7" font-size="21.67" fill="#fff" textLength="71.0" lengthAdjust="spacing" stroke="#fff" stroke-width="0.55">Saving</text>
<circle cx="1021.00" cy="1195.80" r="51.60" fill="#661A85"/>
<path d="M991.9 1206.8L1006.8 1222.8L1050.3 1169" fill="none" stroke="#fff" stroke-width="8.3" stroke-linecap="round" stroke-linejoin="round"/>
<text x="955.2" y="1286.3" font-size="22.18" fill="#661A85" textLength="131.6" lengthAdjust="spacing" stroke="#661A85" stroke-width="0.55">Fully Funded</text>
<text x="955.2" y="1312.7" font-size="22.53" fill="#661A85" textLength="131.6" lengthAdjust="spacing" stroke="#661A85" stroke-width="0.55">School Fees</text>
<path d="M1182.6 1218.1H1195.4V1230.8H1208V1243.5H1195.4V1256.1H1182.6V1243.5H1170V1230.8H1182.6Z" fill="#661A85"/>
<path d="M1333.4 1146.5V1196H1301.3Q1322 1180 1333.4 1146.5Z" fill="#661A85"/>
<rect x="1332.20" y="1195.00" width="1.70" height="16.00" fill="#661A85"/>
<path d="M1289.1 1210.7H1352.2Q1352 1224 1344 1224H1298Q1290 1224 1289.1 1210.7Z" fill="#661A85"/>
<text x="1373.9" y="1166.2" font-size="22.52" fill="#661A85" textLength="103.9" lengthAdjust="spacing" stroke="#661A85" stroke-width="0.55">Additional</text>
<text x="1373.9" y="1192.3" font-size="22.42" fill="#661A85" textLength="114.3" lengthAdjust="spacing" stroke="#661A85" stroke-width="0.55">Retirement</text>
<text x="1373.9" y="1218.2" font-size="22.46" fill="#661A85" textLength="45.7" lengthAdjust="spacing" stroke="#661A85" stroke-width="0.55">fund</text>
<path d="M1318.25 1262.20C1320.09 1262.20 1321.92 1262.65 1323.76 1263.12C1325.60 1263.60 1327.67 1264.20 1329.27 1265.03C1330.87 1265.87 1332.12 1266.94 1333.33 1268.11C1334.54 1269.28 1335.24 1270.27 1336.52 1272.06C1337.80 1273.84 1339.71 1276.37 1341.02 1278.83C1342.32 1281.30 1343.38 1284.07 1344.35 1286.84C1345.32 1289.61 1346.38 1292.79 1346.82 1295.46C1347.25 1298.13 1347.44 1300.64 1346.96 1302.86C1346.48 1305.07 1345.28 1306.74 1343.94 1308.77C1342.61 1310.80 1341.08 1313.16 1338.93 1315.05C1336.77 1316.94 1333.34 1318.80 1331.01 1320.10C1328.68 1321.41 1327.05 1322.26 1324.92 1322.88C1322.79 1323.49 1320.47 1323.80 1318.25 1323.80C1316.03 1323.80 1313.71 1323.49 1311.58 1322.88C1309.45 1322.26 1307.82 1321.41 1305.49 1320.10C1303.16 1318.80 1299.73 1316.94 1297.57 1315.05C1295.42 1313.16 1293.89 1310.80 1292.56 1308.77C1291.22 1306.74 1290.02 1305.07 1289.54 1302.86C1289.06 1300.64 1289.25 1298.13 1289.68 1295.46C1290.12 1292.79 1291.18 1289.61 1292.15 1286.84C1293.12 1284.07 1294.18 1281.30 1295.48 1278.83C1296.79 1276.37 1298.70 1273.84 1299.98 1272.06C1301.26 1270.27 1301.96 1269.28 1303.17 1268.11C1304.38 1266.94 1305.63 1265.87 1307.23 1265.03C1308.83 1264.20 1310.90 1263.60 1312.74 1263.12C1314.58 1262.65 1316.41 1262.20 1318.25 1262.20Z" fill="#661A85"/>
<path d="M1306.65 1252.78L1314.07 1255.11L1318.25 1250.75L1322.43 1255.11L1329.85 1252.78L1325.21 1260.90Q1318.25 1258.16 1311.29 1260.90Z" fill="#661A85"/>
<text x="1318.7" y="1304.0" font-size="31" fill="#fff" font-weight="bold" text-anchor="middle">£</text>
<text x="1374.4" y="1280.8" font-size="22.58" fill="#661A85" textLength="161.0" lengthAdjust="spacing" stroke="#661A85" stroke-width="0.55">Inheritance Tax</text>
<text x="1373.9" y="1306.9" font-size="22.4" fill="#661A85" textLength="105.1" lengthAdjust="spacing" stroke="#661A85" stroke-width="0.55">Reduction</text>
<rect x="1643.00" y="1139.90" width="135.50" height="84.10" fill="#661A85" rx="32"/>
<rect x="1643.00" y="1243.00" width="135.50" height="84.10" fill="#661A85" rx="32"/>
<text x="1670.7" y="1190.7" font-size="28.14" fill="#fff" textLength="79.4" lengthAdjust="spacing" stroke="#fff" stroke-width="0.55">£855k</text>
<text x="1670.7" y="1293.9" font-size="28.14" fill="#fff" textLength="79.4" lengthAdjust="spacing" stroke="#fff" stroke-width="0.55">£268k</text>
<text x="37.6" y="1388.0" font-size="14.31" fill="#A3A3A3" textLength="336.5" lengthAdjust="spacing">This is based upon a real client situation, but certain</text>
<text x="37.6" y="1401.4" font-size="14.1" fill="#A3A3A3" textLength="343.6" lengthAdjust="spacing">information and names have been changed to protect</text>
<text x="37.6" y="1414.9" font-size="14.1" fill="#A3A3A3" textLength="257.8" lengthAdjust="spacing">the identity of the individuals concerned.</text>
<text x="507.8" y="1388.0" font-size="14.35" fill="#A3A3A3" textLength="392.3" lengthAdjust="spacing">Changes to legislation and tax rates as well as interest rates</text>
<text x="507.8" y="1401.4" font-size="14.34" fill="#A3A3A3" textLength="215.1" lengthAdjust="spacing">will impact on a school fees plan.</text>
<text x="978.3" y="1388.0" font-size="14.1" fill="#A3A3A3" textLength="412.1" lengthAdjust="spacing">Eden School Fees Planning Ltd does not guarantee the success</text>
<text x="978.3" y="1401.4" font-size="14.3" fill="#A3A3A3" textLength="358.7" lengthAdjust="spacing">of potential solutions whether illustrated on our website,</text>
<text x="978.3" y="1414.9" font-size="14.28" fill="#A3A3A3" textLength="322.1" lengthAdjust="spacing">other company literature or discussed with clients.</text>
<text x="1444.7" y="1388.0" font-size="14.1" fill="#A3A3A3" textLength="290.3" lengthAdjust="spacing">Find out more at www.schoolfeesplanning.org</text>
<text x="1444.7" y="1401.4" font-size="14.44" fill="#A3A3A3" textLength="189.0" lengthAdjust="spacing">or call us on 08455 76 86 96</text></svg></body></html>
